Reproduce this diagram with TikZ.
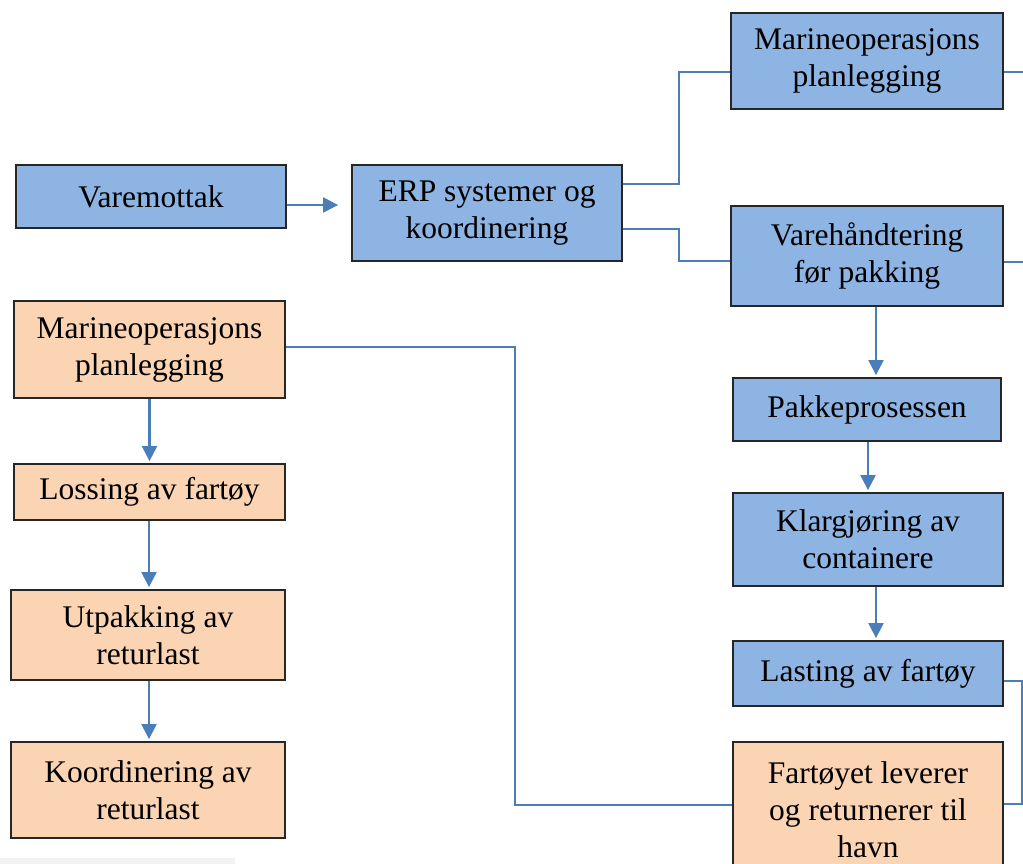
\documentclass[tikz,border=0pt]{standalone}
\usepackage{fontspec}
\setmainfont{Liberation Serif}
\usetikzlibrary{arrows.meta}
\definecolor{blueF}{HTML}{8EB4E3}
\definecolor{orangeF}{HTML}{FBD4B4}
\definecolor{lineC}{HTML}{4A7EBB}
\definecolor{edgeC}{HTML}{262626}
\tikzset{
  box/.style={draw=edgeC, line width=1.8pt, align=center, inner sep=0pt,
    font=\fontsize{31.5}{37}\selectfont},
  bbox/.style={box, fill=blueF},
  obox/.style={box, fill=orangeF},
  ln/.style={draw=lineC, line width=2.2pt},
  arr/.style={ln, -{Triangle[length=15pt,width=15pt]}},
}
\begin{document}
\begin{tikzpicture}[x=1pt,y=-1pt]
\useasboundingbox (0,0) rectangle (1023,864);
\clip (0,0) rectangle (1023,864);
\fill[black!5] (0,858) rectangle (235,864);
% blue boxes
\node[bbox, minimum width=270pt, minimum height=63pt] (vm) at (151,196.5) {Varemottak};
\node[bbox, minimum width=270pt, minimum height=96pt] (erp) at (487,213) {ERP systemer og\\koordinering};
\node[bbox, minimum width=272pt, minimum height=96pt] (mt) at (867,61) {Marineoperasjons\\planlegging};
\node[bbox, minimum width=272pt, minimum height=100pt] (vh) at (867,256) {Varehåndtering\\før pakking};
\node[bbox, minimum width=268pt, minimum height=63pt] (pk) at (867,409.5) {Pakkeprosessen};
\node[bbox, minimum width=270pt, minimum height=93pt] (kl) at (868,539.5) {Klargjøring av\\containere};
\node[bbox, minimum width=270pt, minimum height=65pt] (la) at (868,673.5) {Lasting av fartøy};
% orange boxes
\node[obox, minimum width=270pt, minimum height=136pt] (fa) at (868,810) {Fartøyet leverer\\og returnerer til\\havn};
\node[obox, minimum width=271pt, minimum height=97pt] (om) at (149.5,349.5) {Marineoperasjons\\planlegging};
\node[obox, minimum width=271pt, minimum height=56pt] (lo) at (149.5,492) {Lossing av fartøy};
\node[obox, minimum width=274pt, minimum height=90pt] (ut) at (148,635) {Utpakking av\\returlast};
\node[obox, minimum width=274pt, minimum height=96pt] (ko) at (148,790) {Koordinering av\\returlast};
% connectors
\draw[arr, shorten >=13pt] ([yshift=-8.5pt]vm.east) -- ([yshift=-8.5pt]vm.east -| erp.west);
\draw[ln] ([yshift=29pt]erp.east) -- ++(56,0) |- ([yshift=-11pt]mt.west);
\draw[ln] ([yshift=-16pt]erp.east) -- ++(56,0) |- ([yshift=-5pt]vh.west);
\coordinate (e1) at (1023,72);
\coordinate (e2) at (1023,262);
\draw[ln] ([yshift=-11pt]mt.east) -- (e1);
\draw[ln] ([yshift=-6pt]vh.east) -- (e2);
\draw[arr, shorten >=2pt] ([xshift=9pt]vh.south) -- ([xshift=9pt]vh.south |- pk.north);
\draw[arr, shorten >=2pt] ([xshift=1pt]pk.south) -- ([xshift=1pt]pk.south |- kl.north);
\draw[arr, shorten >=2pt] ([xshift=8pt]kl.south) -- ([xshift=8pt]kl.south |- la.north);
\draw[ln] ([yshift=-7.5pt]la.east) -- ++(18,0) |- ([yshift=6pt]fa.east);
\draw[ln] ([yshift=5pt]fa.west) -- ++(-217,0) |- ([yshift=2.5pt]om.east);
\draw[arr, shorten >=2pt] (om.south) -- (lo.north);
\draw[arr, shorten >=2pt] ([xshift=-0.5pt]lo.south) -- ([xshift=-0.5pt]lo.south |- ut.north);
\draw[arr, shorten >=2pt] ([xshift=1pt]ut.south) -- ([xshift=1pt]ut.south |- ko.north);
\end{tikzpicture}
\end{document}
